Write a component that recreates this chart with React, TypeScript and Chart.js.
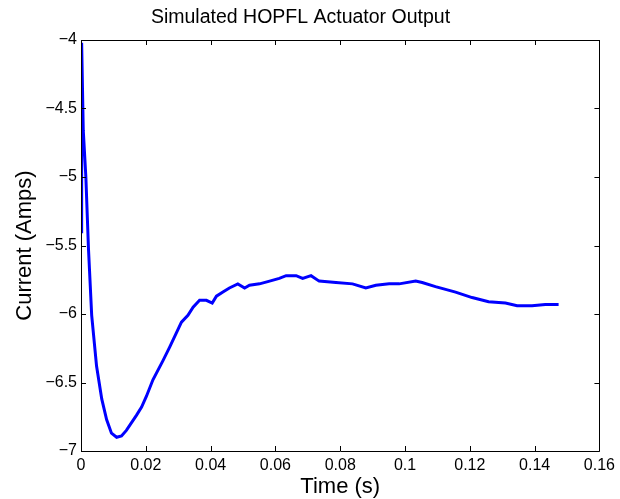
import React, { useEffect, useRef } from "react";
import { Chart, registerables } from "chart.js";

Chart.register(...registerables);

const chartTitle = "Simulated HOPFL Actuator Output";
const xTitle = "Time (s)";
const yTitle = "Current (Amps)";

const times = [0, 0.0002, 0.0007, 0.0015, 0.0023, 0.0033, 0.0048, 0.0064, 0.0079, 0.0094, 0.011, 0.0125, 0.014, 0.0171, 0.0187, 0.0202, 0.0222, 0.0253, 0.0274, 0.0294, 0.031, 0.033, 0.0346, 0.0366, 0.0387, 0.0405, 0.0418, 0.0438, 0.0458, 0.0484, 0.0505, 0.052, 0.0551, 0.0582, 0.0612, 0.0633, 0.0664, 0.0684, 0.071, 0.0735, 0.0787, 0.0838, 0.0879, 0.091, 0.0951, 0.0982, 0.1033, 0.1053, 0.1094, 0.1125, 0.1156, 0.1207, 0.1258, 0.131, 0.1346, 0.1392, 0.1433, 0.1474];
const currents = [-5.4, -4.02, -4.66, -5.0, -5.52, -6.01, -6.38, -6.62, -6.77, -6.87, -6.9, -6.89, -6.85, -6.74, -6.68, -6.6, -6.48, -6.34, -6.24, -6.14, -6.06, -6.01, -5.95, -5.9, -5.9, -5.92, -5.87, -5.84, -5.81, -5.78, -5.81, -5.79, -5.78, -5.76, -5.74, -5.72, -5.72, -5.74, -5.72, -5.76, -5.77, -5.78, -5.81, -5.79, -5.78, -5.78, -5.76, -5.77, -5.8, -5.82, -5.84, -5.88, -5.91, -5.92, -5.94, -5.94, -5.93, -5.93];

const xTicks = [0, 0.02, 0.04, 0.06, 0.08, 0.1, 0.12, 0.14, 0.16];
const yTicks = [-7, -6.5, -6, -5.5, -5, -4.5, -4];

const FONT = "'Liberation Sans', Arial, Helvetica, sans-serif";

const fmt = (v: number) => {
  const s = String(Number(v.toFixed(3)));
  return s.replace("-", "\u2212");
};

const boxPlugin = {
  id: "matlabBox",
  afterDraw(chart: any) {
    const { ctx, chartArea } = chart;
    const { left, right, top, bottom } = chartArea;
    const xs = chart.scales.x;
    const ys = chart.scales.y;
    const L = 5;
    ctx.save();
    ctx.strokeStyle = "#000";
    ctx.lineWidth = 1;
    ctx.beginPath();
    ctx.rect(Math.round(left) + 0.5, Math.round(top) + 0.5, Math.round(right - left), Math.round(bottom - top));
    for (const t of xTicks) {
      const px = Math.round(xs.getPixelForValue(t)) + 0.5;
      ctx.moveTo(px, bottom);
      ctx.lineTo(px, bottom - L);
      ctx.moveTo(px, top);
      ctx.lineTo(px, top + L);
    }
    for (const t of yTicks) {
      const py = Math.round(ys.getPixelForValue(t)) + 0.5;
      ctx.moveTo(left, py);
      ctx.lineTo(left + L, py);
      ctx.moveTo(right, py);
      ctx.lineTo(right - L, py);
    }
    ctx.stroke();
    ctx.restore();
  },
};

export default function App() {
  const ref = useRef<HTMLCanvasElement | null>(null);
  useEffect(() => {
    if (!ref.current) return;
    const data = times.map((t, i) => ({ x: t, y: currents[i] }));
    const chart = new Chart(ref.current, {
      type: "line",
      data: {
        datasets: [
          {
            data,
            borderColor: "#0000ff",
            borderWidth: 3,
            pointRadius: 0,
            tension: 0,
            fill: false,
          },
        ],
      },
      options: {
        animation: false,
        responsive: false,
        maintainAspectRatio: false,
        layout: { padding: { left: 0, right: 19, top: 0, bottom: 0 } },
        plugins: {
          legend: { display: false },
          tooltip: { enabled: false },
          title: {
            display: true,
            text: chartTitle,
            color: "#000",
            font: { family: FONT, size: 19.5, weight: "normal", lineHeight: 1.2 },
            padding: { top: 6, bottom: 10.6 },
          },
        },
        scales: {
          x: {
            type: "linear",
            min: 0,
            max: 0.16,
            afterBuildTicks: (s: any) => {
              s.ticks = xTicks.map((v) => ({ value: v }));
            },
            afterFit: (s: any) => {
              s.height = 48;
            },
            grid: { display: false, drawTicks: false },
            border: { display: false },
            ticks: {
              color: "#000",
              font: { family: FONT, size: 16 },
              padding: 5,
              maxRotation: 0,
              autoSkip: false,
              callback: (v: any) => fmt(Number(v)),
            },
            title: {
              display: true,
              text: xTitle,
              color: "#000",
              font: { family: FONT, size: 22, lineHeight: 1.1 },
              padding: { top: 0, bottom: 0 },
            },
          },
          y: {
            type: "linear",
            min: -7,
            max: -4,
            afterBuildTicks: (s: any) => {
              s.ticks = yTicks.map((v) => ({ value: v }));
            },
            afterFit: (s: any) => {
              s.width = 81;
            },
            grid: { display: false, drawTicks: false },
            border: { display: false },
            ticks: {
              color: "#000",
              font: { family: FONT, size: 16 },
              padding: 4,
              autoSkip: false,
              callback: (v: any) => fmt(Number(v)),
            },
            title: {
              display: true,
              text: yTitle,
              color: "#000",
              font: { family: FONT, size: 22, lineHeight: 1.2 },
              padding: { top: 12, bottom: 0 },
            },
          },
        },
      },
      plugins: [boxPlugin],
    });
    return () => chart.destroy();
  }, []);
  return (
    <div style={{ position: "fixed", left: 0, top: 0, width: 620, height: 499, background: "#fff" }}>
      <canvas ref={ref} width={620} height={499} style={{ width: 620, height: 499 }} />
    </div>
  );
}
